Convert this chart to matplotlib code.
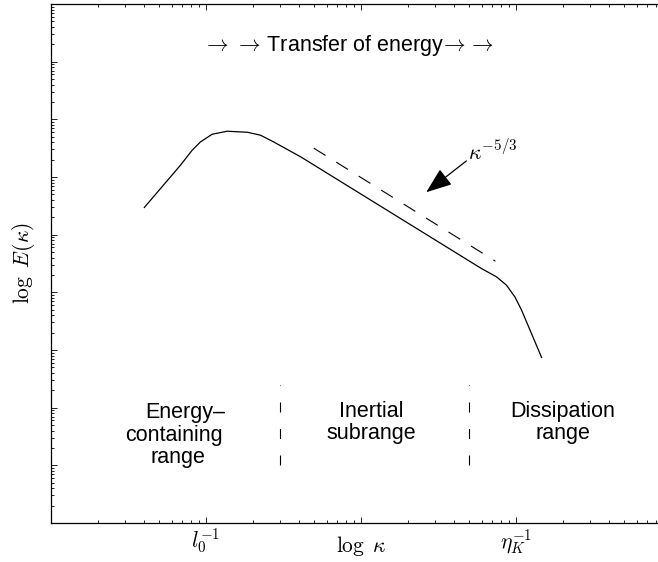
import matplotlib
matplotlib.use("Agg")
import matplotlib.pyplot as plt

plt.rcParams['font.family'] = ['Liberation Sans', 'DejaVu Sans']
plt.rcParams['mathtext.fontset'] = 'cm'

# energy spectrum
kappa = [4.0, 6.84, 8.14, 9.21, 10.97, 13.7, 18.5, 22.5, 27.3, 40.9,
         598, 748, 868, 983, 1086, 1462]
energy = [29.6, 160, 291, 406, 552, 622, 597, 530, 406, 223,
          2.59, 1.86, 1.33, 0.836, 0.492, 0.0745]

# kappa^(-5/3) reference line
ref_kappa = [49.6, 736]
ref_energy = [316, 3.47]

# range separators
sep_kappa = [30, 500]
sep_energy = [0.001, 0.025]

xtick_pos = [1, 10, 100, 1000, 10000]
xtick_lab = ['', r'$l_0^{-1}$', '', r'$\eta_K^{-1}$', '']

fs = 15.5

fig = plt.figure(figsize=(6.58, 5.62), dpi=100)
ax = fig.add_axes([51/658, 39/562, 620/658, 519/562])

ax.loglog(kappa, energy, color='k', lw=0.9)
ax.plot(ref_kappa, ref_energy, color='k', lw=0.8, dashes=(12.4, 11.4))
for k in sep_kappa:
    ax.plot([k, k], sep_energy, color='k', lw=0.8, dashes=(9.0, 14.85))

ax.set_xlim(1, 1e4)
ax.set_ylim(1e-4, 1e5)

ax.set_xticks(xtick_pos)
ax.set_xticklabels(xtick_lab, fontsize=fs)
ax.set_yticks([10.0**i for i in range(-4, 6)])
ax.set_yticklabels([])
ax.tick_params(which='both', direction='in', top=True, right=True, width=0.6)
ax.tick_params(which='major', length=4.5, pad=3)
ax.tick_params(which='minor', length=2.3)
for s in ax.spines.values():
    s.set_linewidth(0.9)

ax.set_xlabel(r'$\log\ \kappa$', fontsize=fs)
ax.xaxis.set_label_coords(0.5, -0.022)
ax.set_ylabel(r'$\log\ E(\kappa)$', fontsize=fs)
ax.yaxis.set_label_coords(-0.022, 0.5)

ax.text(83.6, 19230,
        r'$\rightarrow\!$ $\rightarrow\!$ Transfer of energy$\!\rightarrow\!$ $\!\rightarrow$',
        fontsize=fs, ha='center', va='center')

# slope label and its arrow
ax.text(490, 195, r'$\kappa^{-5/3}$', fontsize=fs, ha='left', va='baseline')
ax.annotate('', xy=(263.6, 54.5), xytext=(478.6, 190),
            arrowprops=dict(arrowstyle='-|>,head_length=1.0,head_width=0.38',
                            mutation_scale=16, color='k', lw=0.9,
                            shrinkA=0, shrinkB=0))

ax.text(7.37, 0.0083, 'Energy\u2013', fontsize=fs, ha='center', va='center')
ax.text(6.25, 0.00334, 'containing', fontsize=fs, ha='center', va='center')
ax.text(6.59, 0.00139, 'range', fontsize=fs, ha='center', va='center')
ax.text(116, 0.00547, 'Inertial\nsubrange', fontsize=fs,
        ha='center', va='center', multialignment='center', linespacing=1.05)
ax.text(2000, 0.00547, 'Dissipation\nrange', fontsize=fs,
        ha='center', va='center', multialignment='center', linespacing=1.05)

fig.savefig('out.png', dpi=100)
